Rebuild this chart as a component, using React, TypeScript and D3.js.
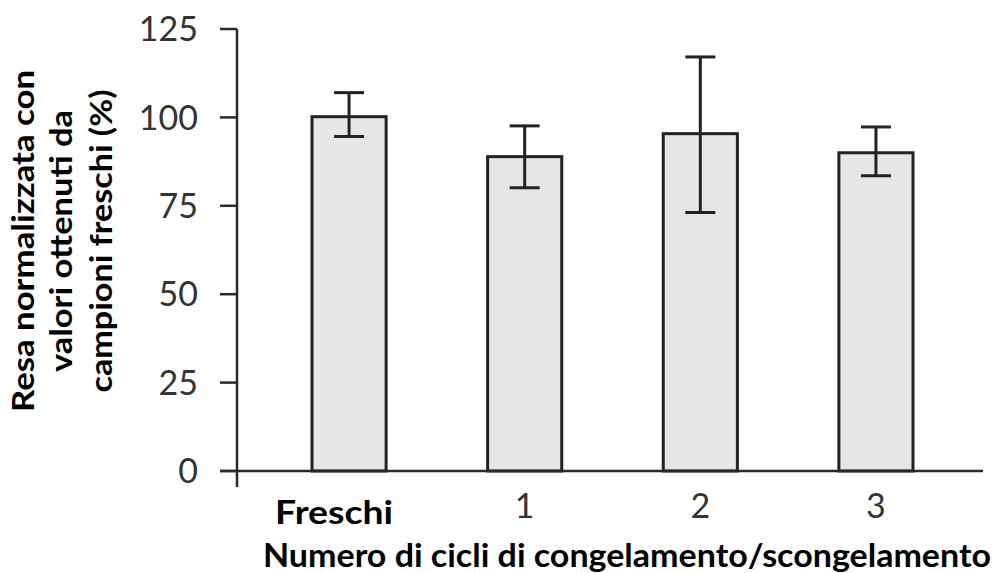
import React, { useRef, useEffect } from "react";
import * as d3 from "d3";

// values
const categories = ["Freschi", "1", "2", "3"];
const means = [100.2, 88.9, 95.4, 90.0];
const errLow = [94.6, 80.1, 73.1, 83.5];
const errHigh = [107.0, 97.6, 117.1, 97.3];
const yTicks = [0, 25, 50, 75, 100, 125];
const yTitle = ["Resa normalizzata con", "valori ottenuti da", "campioni freschi (%)"];
const xTitle = "Numero di cicli di congelamento/scongelamento";

const W = 996;
const H = 573;
const boldFont = "Lato, 'Noto Sans', sans-serif";
const tickFont = "Lato, 'Open Sans', sans-serif";

const App = () => {
  const svgRef = useRef<SVGSVGElement>(null);

  useEffect(() => {
    const svg = d3.select(svgRef.current);
    svg.selectAll("*").remove();

    const axisX = 237;
    const y = d3.scaleLinear().domain([0, 125]).range([471, 29]);
    const x = d3
      .scaleBand()
      .domain(categories)
      .range([axisX, 988])
      .paddingInner(0.578)
      .paddingOuter(0.427);

    const ink = "#222";

    // bars
    svg
      .append("g")
      .selectAll("rect")
      .data(categories)
      .enter()
      .append("rect")
      .attr("x", (d) => x(d))
      .attr("y", (_, i) => y(means[i]))
      .attr("width", x.bandwidth())
      .attr("height", (_, i) => y(0) - y(means[i]))
      .attr("fill", "#e6e6e6")
      .attr("stroke", ink)
      .attr("stroke-width", 3);

    // error bars
    const eb = svg.append("g").attr("stroke", ink).attr("stroke-width", 3);
    categories.forEach((c, i) => {
      const cx = x(c) + x.bandwidth() / 2;
      eb.append("line")
        .attr("x1", cx).attr("x2", cx)
        .attr("y1", y(errLow[i])).attr("y2", y(errHigh[i]));
      [errLow[i], errHigh[i]].forEach((v) => {
        eb.append("line")
          .attr("x1", cx - 15).attr("x2", cx + 15)
          .attr("y1", y(v)).attr("y2", y(v));
      });
    });

    // axes
    const axes = svg.append("g").attr("stroke", "#2a2a2a").attr("stroke-width", 2.5);
    axes.append("line")
      .attr("x1", axisX).attr("x2", axisX)
      .attr("y1", y(125)).attr("y2", 487);
    axes.append("line")
      .attr("x1", 220).attr("x2", 983)
      .attr("y1", y(0)).attr("y2", y(0));
    axes.selectAll(".tick")
      .data(yTicks)
      .enter()
      .append("line")
      .attr("x1", 220).attr("x2", axisX)
      .attr("y1", (d) => y(d)).attr("y2", (d) => y(d));

    svg
      .append("g")
      .selectAll("text")
      .data(yTicks)
      .enter()
      .append("text")
      .attr("x", 198)
      .attr("y", (d) => y(d))
      .attr("dy", "0.36em")
      .attr("text-anchor", "end")
      .attr("font-family", tickFont)
      .attr("font-weight", 400)
      .attr("font-size", 34)
      .attr("fill", "#333")
      .text((d) => d);

    // category labels
    svg
      .append("g")
      .selectAll("text")
      .data(categories)
      .enter()
      .append("text")
      .attr("x", (d, i) => x(d) + x.bandwidth() / 2 + (i === 0 ? -15 : 0))
      .attr("y", (_, i) => (i === 0 ? 524 : 518))
      .attr("text-anchor", "middle")
      .attr("font-family", (_, i) => (i === 0 ? boldFont : tickFont))
      .attr("font-weight", (_, i) => (i === 0 ? 700 : 400))
      .attr("font-size", (_, i) => (i === 0 ? 32 : 34))
      .attr("fill", (_, i) => (i === 0 ? "#000" : "#333"))
      .each(function (_, i) {
        if (i === 0) {
          d3.select(this)
            .attr("textLength", 118)
            .attr("lengthAdjust", "spacingAndGlyphs");
        }
      })
      .text((d) => d);

    // x title
    svg
      .append("text")
      .attr("x", 263)
      .attr("y", 567)
      .attr("font-family", boldFont)
      .attr("font-weight", 700)
      .attr("font-size", 32)
      .attr("textLength", 728)
      .attr("lengthAdjust", "spacingAndGlyphs")
      .text(xTitle);

    // y title
    const lens = [342, 262, 303];
    const base = [34, 72, 112];
    const yt = svg.append("g").attr("transform", "rotate(-90)");
    yTitle.forEach((t, i) => {
      yt.append("text")
        .attr("x", -241)
        .attr("y", base[i])
        .attr("text-anchor", "middle")
        .attr("font-family", boldFont)
        .attr("font-weight", 700)
        .attr("font-size", 31)
        .attr("textLength", lens[i])
        .attr("lengthAdjust", "spacingAndGlyphs")
        .text(t);
    });
  }, []);

  return (
    <svg
      ref={svgRef}
      width={W}
      height={H}
      style={{ position: "absolute", left: 0, top: 0, background: "#fff" }}
      xmlns="http://www.w3.org/2000/svg"
    />
  );
};

export default App;
